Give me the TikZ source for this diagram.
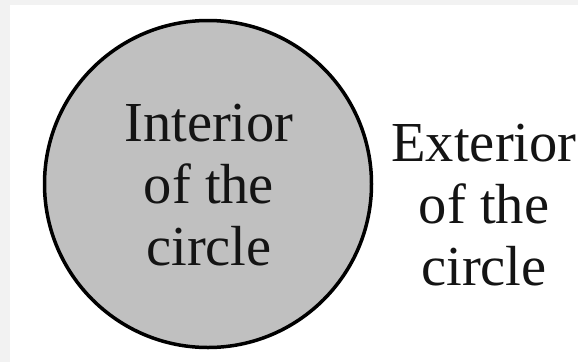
\documentclass[tikz,border=0pt]{standalone}
\usepackage{fontspec}
\setmainfont{Liberation Serif}
\usetikzlibrary{positioning}
\definecolor{ink}{HTML}{141414}
\definecolor{disk}{HTML}{C0C0C0}
\definecolor{margin}{HTML}{F2F2F2}

\begin{document}
\begin{tikzpicture}[x=1pt,y=-1pt,
  words/.style={font=\fontsize{56.5}{62}\selectfont,text=ink,align=center,inner sep=0pt}]
\useasboundingbox (0,0) rectangle (578,362);
\fill[margin] (0,0) rectangle (578,362);
\fill[white] (10,5) rectangle (578,362);
\node[circle,draw=black,line width=3.5pt,fill=disk,minimum size=327pt,inner sep=0pt] (disk) at (208,184) {};
\node[words] (inside) at (209,185) {Interior\\of the\\circle};
\node[words] (outside) at (484,205) {Exterior\\of the\\circle};
\end{tikzpicture}
\end{document}
